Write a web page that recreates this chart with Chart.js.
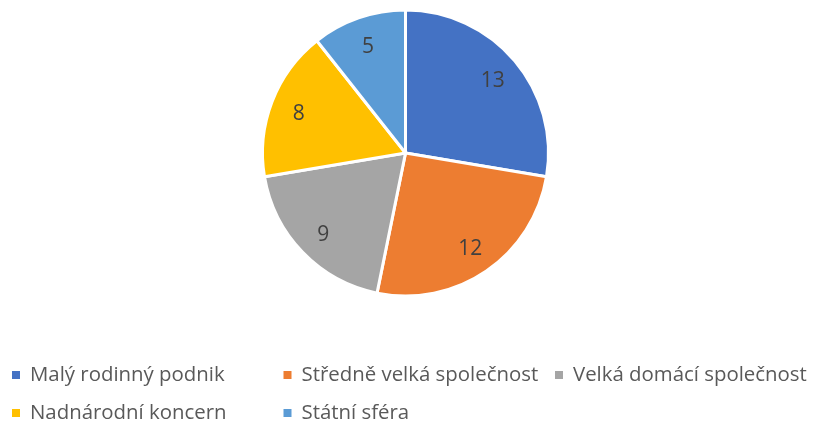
<!DOCTYPE html>
<html>
<head>
<meta charset="utf-8">
<script src="https://cdn.jsdelivr.net/npm/chart.js@4.4.0/dist/chart.umd.min.js"></script>
<style>
  html, body { margin: 0; padding: 0; background: #fff; }
  #wrap { width: 813px; height: 429px; position: relative; }
</style>
</head>
<body>
<div id="wrap"><canvas id="myChart"></canvas></div>
<script>
const categories = [
  "Malý rodinný podnik",
  "Středně velká společnost",
  "Velká domácí společnost",
  "Nadnárodní koncern",
  "Státní sféra"
];
const values = [13, 12, 9, 8, 5];
const colors = ["#4472C4", "#ED7D31", "#A5A5A5", "#FFC000", "#5B9BD5"];

// numbers inside the slices
const sliceLabels = {
  id: "sliceLabels",
  afterDatasetsDraw(chart) {
    const ctx = chart.ctx;
    const meta = chart.getDatasetMeta(0);
    ctx.save();
    ctx.font = "21px 'Open Sans'";
    ctx.fillStyle = "#404040";
    ctx.textAlign = "center";
    ctx.textBaseline = "middle";
    meta.data.forEach((arc, i) => {
      const mid = (arc.startAngle + arc.endAngle) / 2;
      const r = arc.outerRadius * 0.8;
      ctx.fillText(String(values[i]), arc.x + Math.cos(mid) * r, arc.y + Math.sin(mid) * r + 2);
    });
    ctx.restore();
  }
};

// legend laid out in three columns like the original
const gridLegend = {
  id: "gridLegend",
  afterDraw(chart) {
    const ctx = chart.ctx;
    const colW = 271.5;
    const rows = [375, 413];
    ctx.save();
    ctx.font = "20.4px 'Open Sans'";
    ctx.textBaseline = "middle";
    categories.forEach((name, i) => {
      const x = 12 + (i % 3) * colW;
      const y = rows[Math.floor(i / 3)];
      ctx.fillStyle = colors[i];
      ctx.fillRect(x, y - 4, 8, 8);
      ctx.fillStyle = "#595959";
      ctx.fillText(name, x + 18, y);
    });
    ctx.restore();
  }
};

const ctx = document.getElementById("myChart").getContext("2d");
const myChart = new Chart(ctx, {
  type: "pie",
  data: {
    labels: categories,
    datasets: [{
      data: values,
      backgroundColor: colors,
      borderColor: "#ffffff",
      borderWidth: 3,
      radius: 143
    }]
  },
  options: {
    responsive: true,
    maintainAspectRatio: false,
    animation: false,
    layout: { padding: { top: 10, bottom: 133, left: 0, right: 2 } },
    plugins: {
      legend: { display: false },
      tooltip: { enabled: false }
    }
  },
  plugins: [sliceLabels, gridLegend]
});
</script>
</body>
</html>
